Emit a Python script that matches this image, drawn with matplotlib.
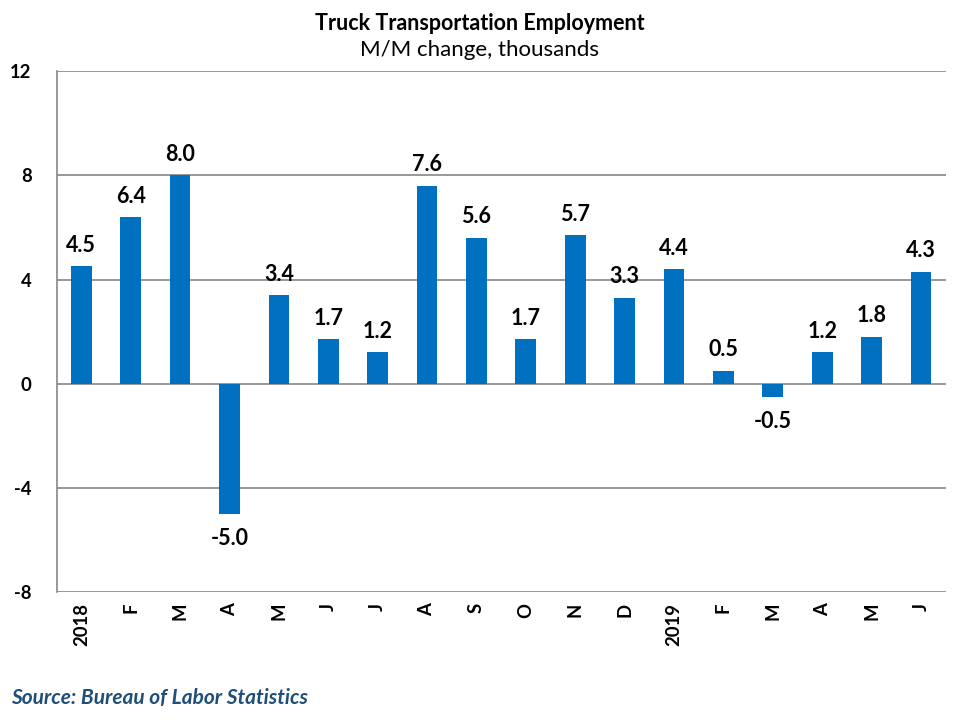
import matplotlib
matplotlib.use("Agg")
import matplotlib.pyplot as plt
import numpy as np

plt.rcParams['font.family'] = ['Lato', 'DejaVu Sans']
plt.rcParams['axes.unicode_minus'] = False

months = ["2018", "F", "M", "A", "M", "J", "J", "A", "S", "O", "N", "D",
          "2019", "F", "M", "A", "M", "J"]
change = [4.5, 6.4, 8.0, -5.0, 3.4, 1.7, 1.2, 7.6, 5.6, 1.7, 5.7, 3.3,
          4.4, 0.5, -0.5, 1.2, 1.8, 4.3]

fig = plt.figure(figsize=(9.6, 7.2), dpi=100)
ax = fig.add_axes([0.059, 0.178, 0.926, 0.723])

x = np.arange(len(months))
bars = ax.bar(x, change, width=0.42, color="#0070C0", zorder=3)

for xi, v in zip(x, change):
    if v >= 0:
        ax.text(xi, v + 0.4, f"{v:.1f}", ha="center", va="bottom",
                fontsize=15.5, fontweight="bold")
    else:
        ax.text(xi, v - 0.55, f"{v:.1f}", ha="center", va="top",
                fontsize=15.5, fontweight="bold")

ax.set_xlim(-0.5, len(months) - 0.5)
ax.set_ylim(-8, 12)
ax.set_yticks([-8, -4, 0, 4, 8, 12])
ax.set_xticks(x)
ax.set_xticklabels(months, rotation=90, fontsize=13.3, fontweight="bold")
for lab in ax.get_yticklabels():
    lab.set_fontweight("bold")
    lab.set_fontsize(13.3)

ax.yaxis.grid(True, color="#868686", linewidth=1.2, zorder=0)
ax.tick_params(axis="both", length=0, pad=8)
ax.tick_params(axis="y", pad=18)
for s in ["top", "right", "bottom"]:
    ax.spines[s].set_visible(False)
ax.spines["left"].set_color("#868686")
ax.spines["left"].set_linewidth(1.2)

fig.text(0.5, 0.968, "Truck Transportation Employment", ha="center", va="center",
         fontsize=15.5, fontweight="bold")
fig.text(0.5, 0.93, "M/M change, thousands", ha="center", va="center", fontsize=16)
fig.text(0.012, 0.03, "Source: Bureau of Labor Statistics", ha="left", va="center",
         fontsize=15, fontweight="bold", fontstyle="italic", color="#1F4E79")

fig.savefig("out.png", dpi=100)
